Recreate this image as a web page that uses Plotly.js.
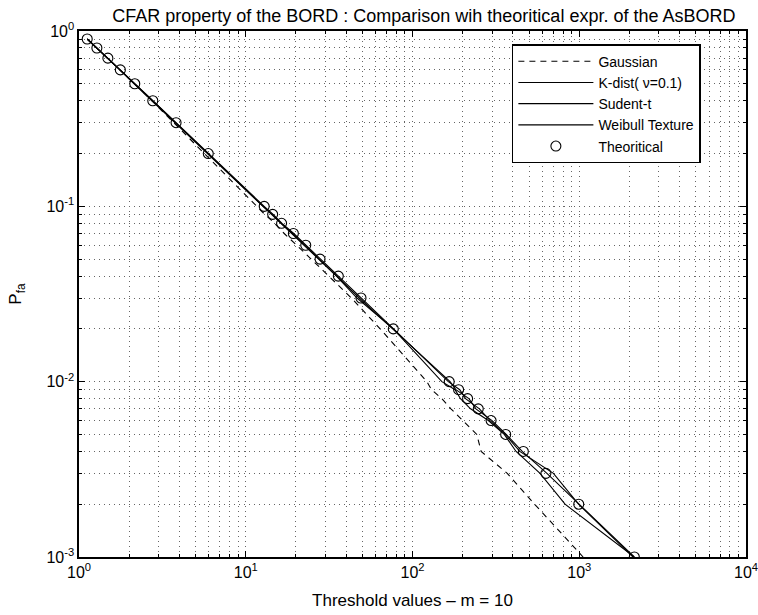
<!DOCTYPE html>
<html>
<head>
<meta charset="utf-8">
<script src="https://cdn.plot.ly/plotly-3.0.1.min.js"></script>
<style>
html,body{margin:0;padding:0;background:#fff;}
#chart{width:758px;height:615px;}
</style>
</head>
<body>
<div id="chart"></div>
<script>
// Probability of false alarm levels (y)
const pfa = [0.9,0.8,0.7,0.6,0.5,0.4,0.3,0.2,0.1,
             0.09,0.08,0.07,0.06,0.05,0.04,0.03,0.02,0.01,
             0.009,0.008,0.007,0.006,0.005,0.004,0.003,0.002,0.001];

// Threshold values (x)
const gaussianX = [1.12,1.28,1.49,1.77,2.15,2.74,3.7,5.6,11.5,
                   13.0,14.9,17.0,20.2,24.8,31.5,43,64,122,
                   130,150,170,200,243,258,370,540,1055];
const kdistX    = [1.12,1.28,1.49,1.77,2.16,2.77,3.8,5.9,12.7,
                   14.4,16.3,19.1,22.6,27.6,35.5,48,76,168,
                   182,218,240,300,365,455,640,1000,2139];
const studentX  = [1.12,1.28,1.49,1.77,2.16,2.77,3.82,5.96,12.9,
                   14.6,16.5,19.4,23.0,28.0,36.2,49.5,77,164,
                   192,208,252,292,360,440,700,990,2100];
const weibullX  = [1.12,1.28,1.49,1.76,2.14,2.74,3.78,5.85,12.6,
                   14.3,16.2,18.9,22.4,27.2,35.0,46.5,76.7,150,
                   180,194,223,285,355,418,582,822,2139];
const theoX     = [1.12,1.28,1.49,1.77,2.16,2.77,3.82,5.96,12.9,
                   14.5,16.4,19.3,22.9,27.9,35.9,49.1,76.7,166,
                   189,214,248,296,362,462,631,993,2139];

const seriesNames = ['Gaussian','K-dist( \u03bd=0.1)','Sudent-t','Weibull Texture','Theoritical'];

// Tick labels
const xTickVals = [1,10,100,1000,10000];
const xTickText = ['10<sup>0</sup>','10<sup>1</sup>','10<sup>2</sup>','10<sup>3</sup>','10<sup>4</sup>'];
const yTickVals = [0.001,0.01,0.1,1];
const yTickText = ['10<sup>-3</sup>','10<sup>-2</sup>','10<sup>-1</sup>','10<sup>0</sup>'];

function minorVals(lo, hi){
  const v = [];
  for (let e = lo; e < hi; e++) for (let k = 2; k <= 9; k++) v.push(k*Math.pow(10,e));
  return v;
}

const FONT = 'Liberation Sans, Arial, Helvetica, sans-serif';
const lineStyle = {color:'#000', width:1.1};
const GRIDC = '#666';
const GRIDDASH = '1px,4px';

const traces = [
  {x:gaussianX, y:pfa, name:seriesNames[0], mode:'lines', type:'scatter',
   line:{color:'#000', width:1.1, dash:'6px,5px'}},
  {x:kdistX, y:pfa, name:seriesNames[1], mode:'lines', type:'scatter', line:lineStyle},
  {x:studentX, y:pfa, name:seriesNames[2], mode:'lines', type:'scatter', line:lineStyle},
  {x:weibullX, y:pfa, name:seriesNames[3], mode:'lines', type:'scatter', line:lineStyle},
  {x:theoX, y:pfa, name:seriesNames[4], mode:'markers', type:'scatter',
   marker:{symbol:'circle-open', size:10, color:'#000', line:{width:1.1, color:'#000'}}}
];

const gridCommon = {
  showgrid:true, gridcolor:GRIDC, griddash:GRIDDASH, gridwidth:1,
  ticks:'inside', ticklen:6, tickwidth:1, tickcolor:'#000',
  showline:true, linecolor:'#000', linewidth:1.6, mirror:'allticks',
  zeroline:false, ticklabeloverflow:'allow',
  tickfont:{family:FONT, size:16, color:'#000'}
};

const layout = {
  width:758, height:615,
  paper_bgcolor:'#fff', plot_bgcolor:'#fff',
  margin:{l:79, r:12, t:31, b:58},
  font:{family:FONT, size:15, color:'#000'},
  title:{text:'CFAR property of the BORD : Comparison wih theoritical expr. of the AsBORD',
         font:{family:FONT, size:18, color:'#000'}, x:0.517, xref:'paper', y:0.975, yanchor:'middle'},
  xaxis:Object.assign({}, gridCommon, {
    type:'log', range:[0,4], tickmode:'array', tickvals:xTickVals, ticktext:xTickText,
    minor:{tickmode:'array', tickvals:minorVals(0,4), ticks:'inside', ticklen:3, tickcolor:'#000',
           showgrid:true, gridcolor:GRIDC, griddash:GRIDDASH, gridwidth:1},
    title:{text:'Threshold values \u2013 m = 10', font:{family:FONT, size:17, color:'#000'}, standoff:14}
  }),
  yaxis:Object.assign({}, gridCommon, {
    type:'log', range:[-3,0], tickmode:'array', tickvals:yTickVals, ticktext:yTickText,
    minor:{tickmode:'array', tickvals:minorVals(-3,0), ticks:'inside', ticklen:3, tickcolor:'#000',
           showgrid:true, gridcolor:GRIDC, griddash:GRIDDASH, gridwidth:1},
    title:{text:'P<sub>fa</sub>', font:{family:FONT, size:17, color:'#000'}, standoff:20}
  }),
  showlegend:true,
  legend:{x:0.649, y:0.975, xanchor:'left', yanchor:'top',
          bgcolor:'#fff', bordercolor:'#000', borderwidth:1.5,
          font:{family:FONT, size:14, color:'#000'}, tracegroupgap:0, itemwidth:75,
          entrywidth:232}
};

Plotly.newPlot('chart', traces, layout, {displayModeBar:false, staticPlot:true});
</script>
</body>
</html>
